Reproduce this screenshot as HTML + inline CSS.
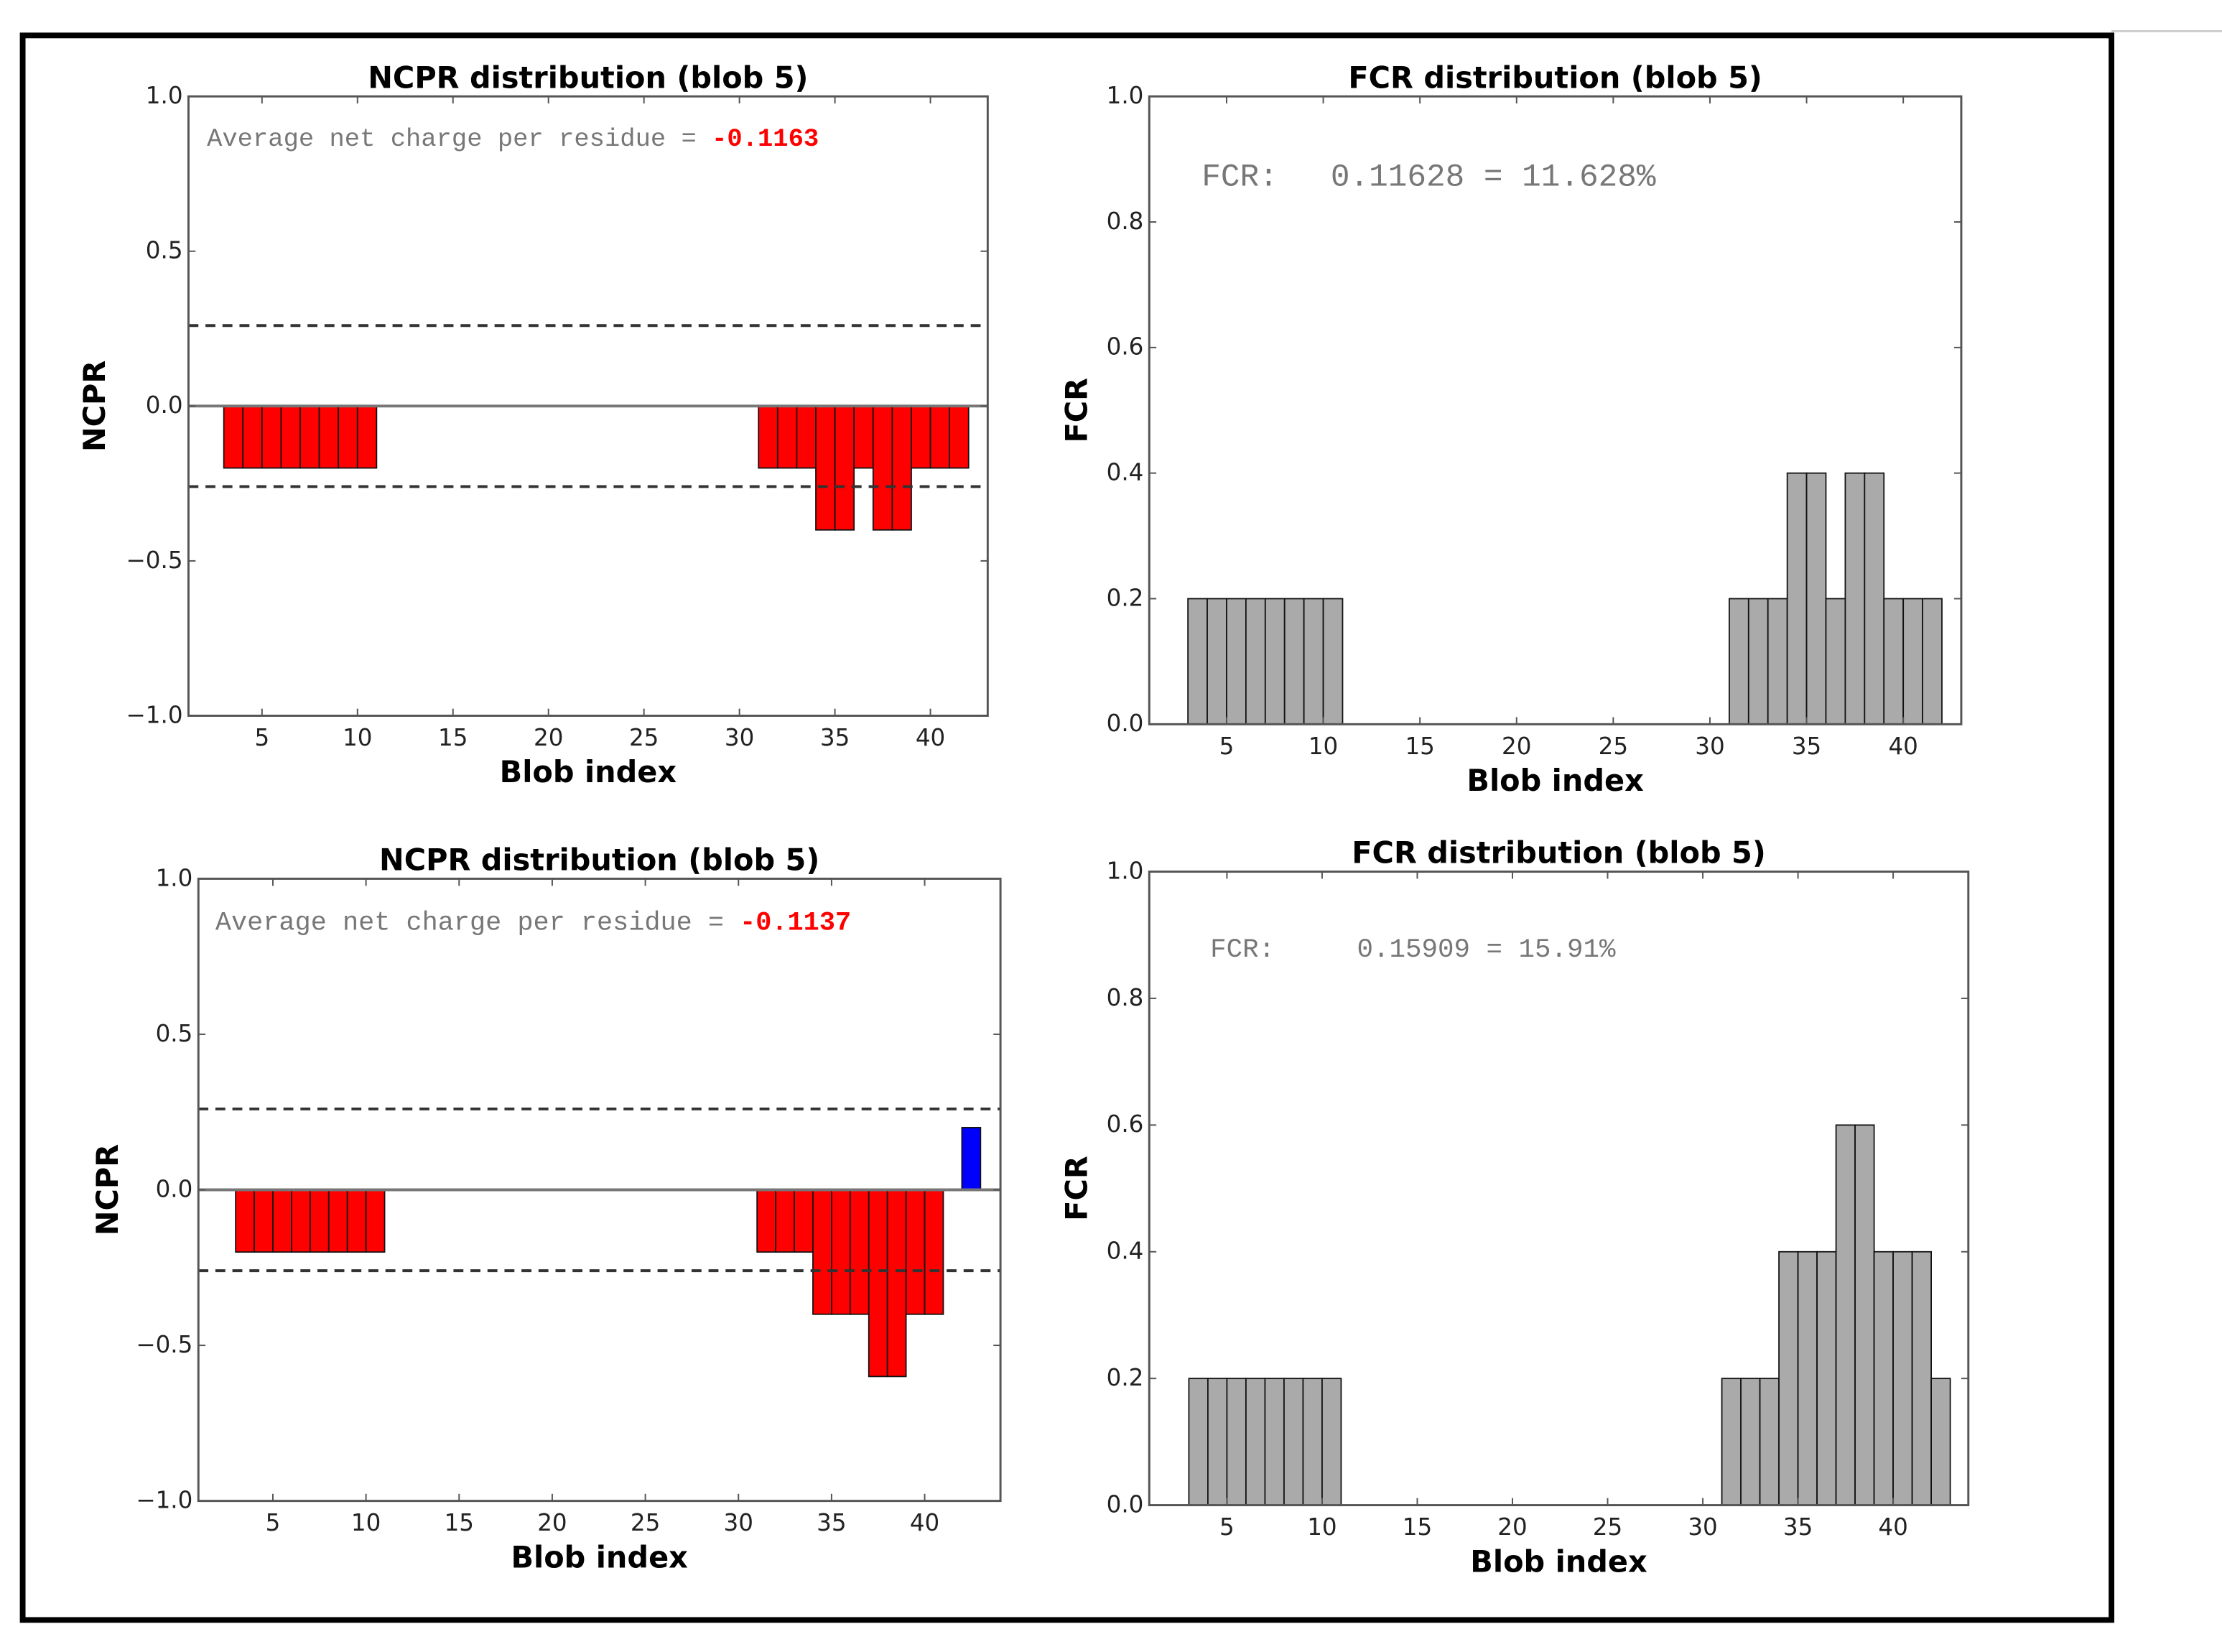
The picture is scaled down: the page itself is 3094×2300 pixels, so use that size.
<!DOCTYPE html>
<html><head><meta charset="utf-8">
<style>
html,body{margin:0;padding:0;background:#fff;}
svg{display:block;}
</style></head>
<body>
<svg id="fig" width="3094" height="2300" viewBox="0 0 1568 1165.6" xmlns="http://www.w3.org/2000/svg" font-family="DejaVu Sans, Liberation Sans, sans-serif">
<rect x="0" y="0" width="1568" height="1166" fill="#fff"/>
<line x1="1490" y1="22" x2="1568" y2="22" stroke="#ccc" stroke-width="1.5"/>
<rect x="16" y="25" width="1474" height="1118" fill="none" stroke="#000" stroke-width="4"/>
</svg>
<script>
// ---- data ----
const xTickLabels = [5,10,15,20,25,30,35,40];
const ncprTicks = [1.0,0.5,0.0,-0.5,-1.0];
const fcrTicks = [0.0,0.2,0.4,0.6,0.8,1.0];
const blobIdx1 = [3,4,5,6,7,8,9,10,31,32,33,34,35,36,37,38,39,40,41];
const ncpr1 = [-0.2,-0.2,-0.2,-0.2,-0.2,-0.2,-0.2,-0.2,-0.2,-0.2,-0.2,-0.4,-0.4,-0.2,-0.4,-0.4,-0.2,-0.2,-0.2];
const fcr1 = [0.2,0.2,0.2,0.2,0.2,0.2,0.2,0.2,0.2,0.2,0.2,0.4,0.4,0.2,0.4,0.4,0.2,0.2,0.2];
const blobIdx2n = [3,4,5,6,7,8,9,10,31,32,33,34,35,36,37,38,39,40,42];
const ncpr2 = [-0.2,-0.2,-0.2,-0.2,-0.2,-0.2,-0.2,-0.2,-0.2,-0.2,-0.2,-0.4,-0.4,-0.4,-0.6,-0.6,-0.4,-0.4,0.2];
const blobIdx2f = [3,4,5,6,7,8,9,10,31,32,33,34,35,36,37,38,39,40,41,42];
const fcr2 = [0.2,0.2,0.2,0.2,0.2,0.2,0.2,0.2,0.2,0.2,0.2,0.4,0.4,0.4,0.6,0.6,0.4,0.4,0.4,0.2];
const thresh = 0.26;
const avg1 = "-0.1163", avg2 = "-0.1137";
const fcrText1 = "0.11628 = 11.628%", fcrText2 = "0.15909 = 15.91%";

const NS="http://www.w3.org/2000/svg";
const svg=document.getElementById('fig');
function el(tag,attrs,parent,txt){const e=document.createElementNS(NS,tag);for(const k in attrs)e.setAttribute(k,attrs[k]);if(txt!==undefined)e.textContent=txt;(parent||svg).appendChild(e);return e;}

function panel(cfg){
  const g=el('g',{});
  
  
  const sx=v=>cfg.x0+(v-cfg.xmin)/(cfg.xmax-cfg.xmin)*(cfg.x1-cfg.x0);
  const sy=v=>cfg.y1-(v-cfg.ymin)/(cfg.ymax-cfg.ymin)*(cfg.y1-cfg.y0);
  cfg.idx.forEach((b,i)=>{
    const v=cfg.vals[i];
    const r=el('rect',{x:sx(b),y:Math.min(sy(v),sy(0)),width:sx(b+1)-sx(b),height:Math.abs(sy(v)-sy(0)),
      fill: cfg.fcr? '#aaaaaa' : (v>0?'#0000ff':'#ff0000'), stroke:'#111','stroke-width':0.9},g);
    
    
  });
  if(!cfg.fcr){
    const z=el('line',{x1:cfg.x0,x2:cfg.x1,y1:sy(0),y2:sy(0),stroke:'#777','stroke-width':2},g);
    
    
    [thresh,-thresh].forEach(t=>{
      const d=el('line',{x1:cfg.x0,x2:cfg.x1,y1:sy(t),y2:sy(t),stroke:'#333','stroke-width':2,'stroke-dasharray':'7,5'},g);
      
      
    });
  }
  const fr=el('rect',{x:cfg.x0,y:cfg.y0,width:cfg.x1-cfg.x0,height:cfg.y1-cfg.y0,fill:'none',stroke:'#555','stroke-width':1.5},g);
  
  
  xTickLabels.forEach(t=>{
    const x=sx(t);
    el('line',{x1:x,x2:x,y1:cfg.y1,y2:cfg.y1-5,stroke:'#555'},g);
    el('line',{x1:x,x2:x,y1:cfg.y0,y2:cfg.y0+5,stroke:'#555'},g);
    const tl=el('text',{x:x,y:cfg.y1+21,'text-anchor':'middle','font-size':16.5,fill:'#222'},g,String(t));
    
    
  });
  cfg.yticks.forEach(t=>{
    const y=sy(t);
    el('line',{x1:cfg.x0,x2:cfg.x0+5,y1:y,y2:y,stroke:'#555'},g);
    el('line',{x1:cfg.x1,x2:cfg.x1-5,y1:y,y2:y,stroke:'#555'},g);
    const lab=(t<0?'\u2212':'')+Math.abs(t).toFixed(1);
    const tl=el('text',{x:cfg.x0-4,y:y+5,'text-anchor':'end','font-size':16.5,fill:'#222'},g,lab);
    
    
  });
  const ti=el('text',{x:(cfg.x0+cfg.x1)/2,y:cfg.y0-6,'text-anchor':'middle','font-size':21,'font-weight':'bold',fill:'#000'},g,cfg.title);
  
  
  const xl=el('text',{x:(cfg.x0+cfg.x1)/2,y:cfg.y1+47,'text-anchor':'middle','font-size':21,'font-weight':'bold',fill:'#000'},g,'Blob index');
  
  
  const ly=(cfg.y0+cfg.y1)/2;
  const yl=el('text',{x:cfg.ylx,y:ly,'text-anchor':'middle','font-size':21,'font-weight':'bold',fill:'#000',transform:`rotate(-90 ${cfg.ylx} ${ly})`},g,cfg.fcr?'FCR':'NCPR');
  
  
  const an=el('text',{x:cfg.annX,y:cfg.annY,'font-size':cfg.annSize,fill:'#777',style:'font-family:"Liberation Mono","DejaVu Sans Mono",monospace'},g);
  
  
  if(cfg.fcr){
    el('tspan',{},an,'FCR:');
    el('tspan',{dx:cfg.annGap},an,cfg.ann);
  } else {
    el('tspan',{},an,'Average net charge per residue = ');
    el('tspan',{fill:'#ff0000','font-weight':'bold'},an,cfg.ann);
  }
}

panel({name:'ncpr-chart-top',x0:133,x1:697,y0:68,y1:505,xmin:1.15,xmax:43.0,ymin:-1,ymax:1,yticks:ncprTicks,
  idx:blobIdx1,vals:ncpr1,fcr:false,title:'NCPR distribution (blob 5)',ylx:74,ann:avg1,annX:146,annY:103,annSize:18});
panel({name:'fcr-chart-top',x0:811,x1:1384,y0:68,y1:511,xmin:1,xmax:43,ymin:0,ymax:1,yticks:fcrTicks,
  idx:blobIdx1,vals:fcr1,fcr:true,title:'FCR distribution (blob 5)',ylx:767,ann:fcrText1,annX:848,annY:131,annSize:22.5,annGap:37});
panel({name:'ncpr-chart-bottom',x0:140,x1:706,y0:620,y1:1059,xmin:1,xmax:44.07,ymin:-1,ymax:1,yticks:ncprTicks,
  idx:blobIdx2n,vals:ncpr2,fcr:false,title:'NCPR distribution (blob 5)',ylx:83,ann:avg2,annX:152,annY:656,annSize:18.7});
panel({name:'fcr-chart-bottom',x0:811,x1:1389,y0:615,y1:1062,xmin:0.92,xmax:43.95,ymin:0,ymax:1,yticks:fcrTicks,
  idx:blobIdx2f,vals:fcr2,fcr:true,title:'FCR distribution (blob 5)',ylx:767,ann:fcrText2,annX:854,annY:675,annSize:19,annGap:58});
</script>
</body></html>
